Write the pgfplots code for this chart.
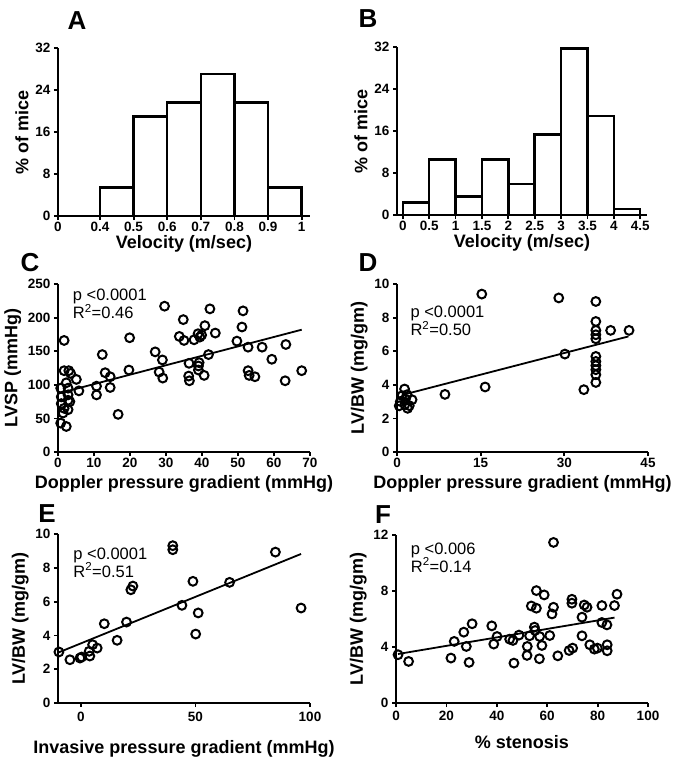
\documentclass[border=0pt]{standalone}
\usepackage{fontspec}
\setmainfont{Liberation Sans}
\usepackage{pgfplots}
\pgfplotsset{compat=1.18}

\pgfplotsset{
  panel/.style={
    scale only axis, width=252pt, height=168pt,
    axis x line*=bottom, axis y line*=left,
    axis line style={line width=2.6pt, -},
    every tick/.style={black, line width=1.8pt},
    tick align=outside, major tick length=4pt,
    tick label style={font=\bfseries\fontsize{13.5}{15}\selectfont},
    xticklabel style={yshift=1pt},
    label style={font=\bfseries\fontsize{18}{21}\selectfont},
    /pgf/number format/assume math mode=true,
    clip=false,
  },
  hist/.style={ybar interval, fill=white, draw=black, line width=2.5pt},
  dots/.style={only marks, mark=o, mark size=4.4pt, mark options={line width=2pt, black}},
  fit/.style={black, line width=1.8pt},
}
\tikzset{
  stat/.style={anchor=north west, align=left, font=\fontsize{16.5}{18}\selectfont},
  letter/.style={font=\bfseries\fontsize{26}{26}\selectfont},
}

\begin{document}
\begin{tikzpicture}
\useasboundingbox (0,0) rectangle (675pt,-760pt);

% A
\begin{axis}[panel, at={(58pt,-216pt)}, anchor=south west,
  xmin=0, xmax=7.5, ymin=0, ymax=32,
  xtick={0,1.25,2.25,3.25,4.25,5.25,6.25,7.25},
  xticklabels={0,0.4,0.5,0.6,0.7,0.8,0.9,1},
  ytick={0,8,16,24,32},
  xlabel={Velocity (m/sec)}, ylabel={\% of mice},
  xlabel style={yshift=4pt}]
\addplot[hist] coordinates {(1.25,5.41)(2.25,18.92)(3.25,21.62)(4.25,27.03)(5.25,21.62)(6.25,5.41)(7.25,5.41)};
\end{axis}

% B
\begin{axis}[panel, at={(397pt,-215pt)}, anchor=south west, width=250pt,
  xmin=-0.11, xmax=4.63, ymin=0, ymax=32,
  xtick={0,0.5,...,4.5}, ytick={0,8,16,24,32},
  xlabel={Velocity (m/sec)}, ylabel={\% of mice},
  xlabel style={yshift=4pt}]
\addplot[hist] coordinates {(0,2.35)(0.5,10.59)(1,3.53)(1.5,10.59)(2,5.88)(2.5,15.29)(3,31.76)(3.5,18.82)(4,1.18)(4.5,1.18)};
\end{axis}

% C
\begin{axis}[panel, at={(58pt,-452pt)}, anchor=south west,
  xmin=0, xmax=70, ymin=0, ymax=250,
  xtick={0,10,...,70}, ytick={0,50,...,250},
  xlabel={Doppler pressure gradient (mmHg)}, ylabel={LVSP (mmHg)}]
\addplot[dots] coordinates {
(1.7,166)(1.7,121)(3.0,121)(3.5,117)(5.1,108)(2.3,103)(0.75,95)(2.8,95)(5.8,91)
(0.9,82)(2.8,85)(2.8,77)(0.9,72)(3.3,75)(1.7,65)(2.8,63)(1.4,58)(0.75,43)(2.3,38)
(12.3,145)(13.1,118)(14.5,112)(14.5,96)(10.7,98)(10.7,85)(16.7,56)(19.9,170)(19.7,122)
(27.0,149)(29.0,137)(28.1,119)(29.1,110)(29.6,217)(33.7,172)(34.8,197)(35.0,166)
(36.4,132)(36.3,113)(36.5,106)(37.8,167)(38.9,176)(39.4,171)(39.9,174)(39.2,133)
(39.0,128)(39.0,122)(40.6,114)(40.8,188)(42.2,213)(41.8,145)(43.7,177)(49.7,165)
(51.4,210)(51.1,186)(52.8,156)(52.8,121)(53.1,114)(54.7,112)(56.7,156)(59.4,138)
(63.3,160)(63.1,106)(67.7,121)};
\addplot[fit] coordinates {(0.5,87.7)(67.7,182)};
\node[stat] at (rel axis cs:0.045,0.99) {p <0.0001\\R\textsuperscript{2}=0.46};
\end{axis}

% D
\begin{axis}[panel, at={(397pt,-452pt)}, anchor=south west, width=251pt,
  xmin=0, xmax=45, ymin=0, ymax=10,
  xtick={0,15,30,45}, ytick={0,2,...,10},
  xlabel={Doppler pressure gradient (mmHg)}, ylabel={LV/BW (mg/gm)}]
\addplot[dots] coordinates {
(15.2,9.4)(29.0,9.17)(35.65,8.96)(35.65,7.77)(38.3,7.24)(41.6,7.24)(35.65,7.24)
(35.65,6.98)(35.65,6.74)(30.1,5.83)(35.65,5.69)(35.65,5.39)(35.65,5.14)(35.65,4.9)
(35.65,4.6)(35.65,4.14)(33.5,3.71)(15.8,3.87)(8.6,3.43)(1.36,3.75)(0.9,3.35)
(1.8,3.41)(2.7,3.11)(0.6,3.01)(1.5,3.15)(1.4,2.82)(2.2,2.76)(1.9,2.6)(0.4,2.75)};
\addplot[fit] coordinates {(1,3.4)(41.5,6.88)};
\node[stat] at (rel axis cs:0.04,0.89) {p <0.0001\\R\textsuperscript{2}=0.50};
\end{axis}

% E
\begin{axis}[panel, at={(58pt,-703pt)}, anchor=south west, height=169pt,
  xmin=-10, xmax=100, ymin=0, ymax=10,
  xtick={0,50,100}, ytick={0,2,...,10},
  xlabel={Invasive pressure gradient (mmHg)}, ylabel={LV/BW (mg/gm)},
  xlabel style={yshift=-11pt}, xticklabel style={yshift=-3pt}]
\addplot[dots] coordinates {
(-9.6,3.02)(-4.8,2.56)(-0.4,2.66)(0.3,2.72)(3.9,2.78)(3.6,3.06)(5.1,3.45)(7.1,3.25)
(10.2,4.69)(15.8,3.71)(19.9,4.79)(21.8,6.7)(22.7,6.92)(40.1,9.31)(40.1,9.07)
(44.1,5.78)(48.9,7.2)(50.1,4.08)(51.2,5.33)(64.9,7.14)(84.9,8.93)(96.1,5.62)};
\addplot[fit] coordinates {(-9.6,3.0)(96.1,8.82)};
\node[stat] at (rel axis cs:0.047,0.94) {p <0.0001\\R\textsuperscript{2}=0.51};
\end{axis}

% F
\begin{axis}[panel, at={(396pt,-703pt)}, anchor=south west,
  xmin=0, xmax=100, ymin=0, ymax=12,
  xtick={0,20,...,100}, ytick={0,4,8,12},
  xlabel={\% stenosis}, ylabel={LV/BW (mg/gm)},
  xlabel style={yshift=-7pt}, xticklabel style={yshift=-2pt}]
\addplot[dots] coordinates {
(0.8,3.45)(5.0,2.97)(23.1,4.40)(21.8,3.21)(26.9,5.06)(27.9,4.04)(30.2,5.66)(29.0,2.90)
(38.0,5.51)(38.8,4.21)(40.1,4.75)(45.1,4.56)(46.4,4.47)(46.8,2.85)(48.8,4.85)
(52.1,4.04)(52.0,3.40)(53.0,4.80)(53.7,6.93)(54.9,5.42)(55.7,6.77)(55.7,8.03)
(55.2,5.18)(57.0,4.75)(56.9,3.16)(57.9,4.11)(58.8,7.72)(61.0,4.82)(61.9,6.36)
(62.5,6.84)(62.5,11.47)(64.2,3.37)(68.7,3.75)(70.1,3.92)(69.8,7.41)(69.8,7.13)
(73.8,6.13)(73.8,4.8)(74.7,7.0)(75.8,6.84)(76.9,4.16)(78.7,3.85)(79.9,3.92)
(81.7,6.96)(81.7,5.75)(83.7,5.58)(83.8,4.16)(83.8,3.73)(86.7,6.96)(87.7,7.77)};
\addplot[fit] coordinates {(0.8,3.5)(86.7,6.1)};
\node[stat] at (rel axis cs:0.045,0.975) {p <0.006\\R\textsuperscript{2}=0.14};
\end{axis}

\node[letter] at (77pt,-21pt) {A};
\node[letter] at (368pt,-19pt) {B};
\node[letter] at (30pt,-263pt) {C};
\node[letter] at (368pt,-263pt) {D};
\node[letter] at (47pt,-514pt) {E};
\node[letter] at (383pt,-515pt) {F};
\end{tikzpicture}
\end{document}
